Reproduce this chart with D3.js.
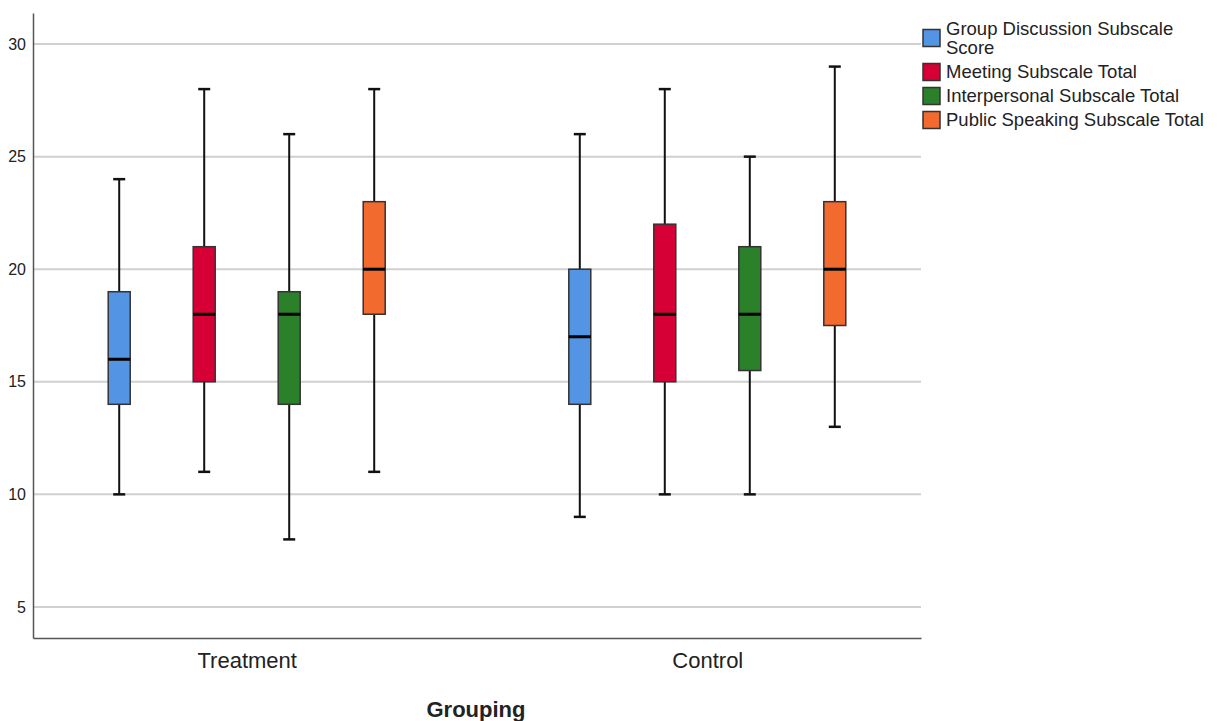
<!DOCTYPE html>
<html>
<head>
<meta charset="utf-8">
<script src="https://cdn.jsdelivr.net/npm/d3@7"></script>
<style>
  body { margin: 0; background: #fff; }
  text { font-family: "Liberation Sans", Arial, sans-serif; fill: #222; }
</style>
</head>
<body>
<div id="chart"></div>
<script>
// groups along x, series inside each group
const groups = ['Treatment', 'Control'];
const series = [
    'Group Discussion Subscale Score',
    'Meeting Subscale Total',
    'Interpersonal Subscale Total',
    'Public Speaking Subscale Total'
];
const legendLines = [
    ['Group Discussion Subscale', 'Score'],
    ['Meeting Subscale Total'],
    ['Interpersonal Subscale Total'],
    ['Public Speaking Subscale Total']
];
const colors = ['#5394e5', '#d60036', '#2b8129', '#f36a2f'];
const yTicks = [5, 10, 15, 20, 25, 30];

// per series: [Treatment, Control]
const whiskerLow = [[10, 9], [11, 10], [8, 10], [11, 13]];
const q1 = [[14, 14], [15, 15], [14, 15.5], [18, 17.5]];
const median = [[16, 17], [18, 18], [18, 18], [20, 20]];
const q3 = [[19, 20], [21, 22], [19, 21], [23, 23]];
const whiskerHigh = [[24, 26], [28, 28], [26, 25], [28, 29]];

const width = 1217, height = 721;
const margin = { top: 13, right: 296, bottom: 83, left: 33 };
const w = width - margin.left - margin.right;
const h = height - margin.top - margin.bottom;

const svg = d3.select('#chart').append('svg')
    .attr('width', width)
    .attr('height', height);

const g = svg.append('g')
    .attr('transform', `translate(${margin.left},${margin.top})`);

const y = d3.scaleLinear().domain([3.62, 31.38]).range([h, 0]);
const x = d3.scalePoint().domain(groups).range([0, w]).padding(0.464);
const xi = d3.scaleBand().domain(d3.range(series.length)).range([-170, 170]);
const boxW = 22, capW = 12;

// gridlines
g.selectAll('.grid').data(yTicks).enter().append('line')
    .attr('x1', 0).attr('x2', w)
    .attr('y1', d => y(d)).attr('y2', d => y(d))
    .attr('stroke', '#d0d0d0').attr('stroke-width', 2);

// y axis
const yAxis = g.append('g').call(d3.axisLeft(y).tickValues(yTicks).tickSize(0).tickPadding(7));
yAxis.select('.domain').attr('stroke', '#555').attr('stroke-width', 1.5);
yAxis.selectAll('text').style('font-size', '16px').attr('fill', '#222');

// x axis
const xAxis = g.append('g').attr('transform', `translate(0,${h})`)
    .call(d3.axisBottom(x).tickSize(0).tickPadding(14));
xAxis.select('.domain').attr('stroke', '#555').attr('stroke-width', 1.5);
xAxis.selectAll('text').style('font-size', '22px').attr('fill', '#222');

svg.append('text')
    .attr('x', margin.left + w / 2 - 1).attr('y', 717)
    .attr('text-anchor', 'middle')
    .style('font-size', '22px').style('font-weight', 'bold')
    .text('Grouping');

// boxes
const boxes = [];
series.forEach((s, si) => groups.forEach((grp, gi) => {
    boxes.push({
        si, cx: x(grp) + xi(si) + xi.bandwidth() / 2,
        lo: whiskerLow[si][gi], q1: q1[si][gi], med: median[si][gi],
        q3: q3[si][gi], hi: whiskerHigh[si][gi]
    });
}));

const cell = g.selectAll('.box').data(boxes).enter().append('g')
    .attr('class', 'box')
    .attr('transform', d => `translate(${d.cx},0)`);

cell.append('line')
    .attr('x1', 0).attr('x2', 0)
    .attr('y1', d => y(d.lo)).attr('y2', d => y(d.hi))
    .attr('stroke', '#111').attr('stroke-width', 2);

cell.selectAll('.cap').data(d => [d.lo, d.hi]).enter().append('line')
    .attr('x1', -capW / 2).attr('x2', capW / 2)
    .attr('y1', d => y(d)).attr('y2', d => y(d))
    .attr('stroke', '#111').attr('stroke-width', 2.5);

cell.append('rect')
    .attr('x', -boxW / 2).attr('width', boxW)
    .attr('y', d => y(d.q3)).attr('height', d => y(d.q1) - y(d.q3))
    .attr('fill', d => colors[d.si])
    .attr('stroke', '#333').attr('stroke-width', 1.5);

cell.append('line')
    .attr('x1', -boxW / 2).attr('x2', boxW / 2)
    .attr('y1', d => y(d.med)).attr('y2', d => y(d.med))
    .attr('stroke', '#000').attr('stroke-width', 3);

// legend: first item wraps onto two lines, swatch sits between them
const leg = svg.append('g').attr('transform', 'translate(923,0)');
const textY = [28.5, 72, 96, 120];
const lineGap = 19;
legendLines.forEach((lines, i) => {
    const item = leg.append('g');
    const mid = textY[i] + (lines.length - 1) * lineGap / 2;
    item.append('rect')
        .attr('x', 0).attr('y', mid - 8.5).attr('width', 17).attr('height', 17)
        .attr('fill', colors[i]).attr('stroke', '#333').attr('stroke-width', 1.5);
    lines.forEach((t, j) => {
        item.append('text')
            .attr('x', 23).attr('y', textY[i] + j * lineGap)
            .attr('dy', '0.35em')
            .style('font-size', '18.5px')
            .text(t);
    });
});
</script>
</body>
</html>
